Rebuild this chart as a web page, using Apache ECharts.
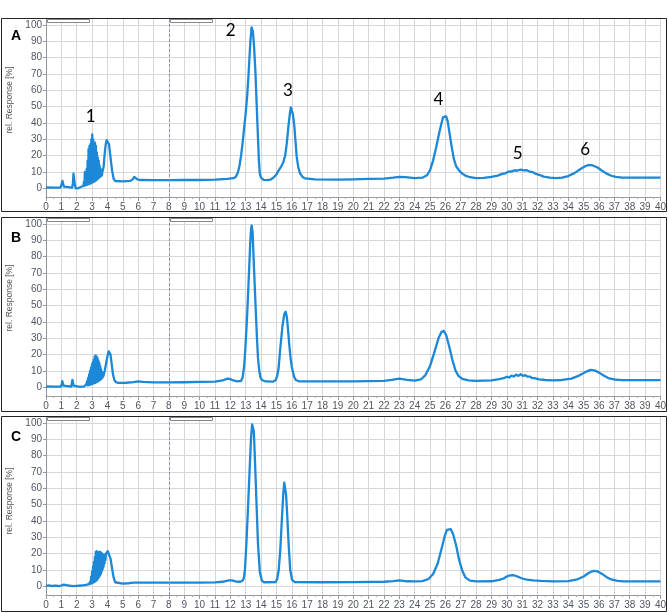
<!DOCTYPE html>
<html><head><meta charset="utf-8">
<script src="https://cdn.jsdelivr.net/npm/echarts@6/dist/echarts.min.js"></script>
<style>html,body{margin:0;padding:0;background:#fff}#c{width:669px;height:613px}</style>
</head><body><div id="c"></div>
<script>
const panelNames = ['A', 'B', 'C'];
const yTitle = 'rel. Response [%]';
const yTicks = [0, 10, 20, 30, 40, 50, 60, 70, 80, 90, 100];
const xMin = 0, xMax = 40, xStep = 1;
const yMin = -5.3, yMax = 103.6;
const integrationMarker = 8;

const traceA = [
[0,0.5],[0.5,0.4],[0.95,0.5],[1.02,1.5],[1.07,4.5],[1.12,3.5],[1.17,1],[1.25,0.4],[1.7,0.4],[1.75,3],[1.79,9],[1.84,8.5],[1.88,2],[1.93,0],[2.0,-0.3],[2.1,0],[2.2,0.5],[2.3,1],[2.38,1.3],
[2.44,1.5],[2.47,4],[2.50,1.6],[2.53,10],[2.56,1.8],[2.59,7],[2.62,2],[2.65,12],[2.68,2.2],[2.71,17],[2.74,2.4],[2.77,24],[2.80,2.6],[2.83,26],[2.86,2.8],[2.89,27],[2.92,3],[2.95,30],[2.98,3.3],[3.01,33],[3.04,3.6],[3.07,30],[3.10,3.9],[3.13,28],[3.16,4.2],[3.19,28],[3.22,4.6],[3.25,26],[3.28,5],[3.31,22],[3.34,5.5],[3.37,19],[3.40,6],[3.43,17],[3.46,6.5],[3.49,14],[3.52,7],[3.55,12],[3.58,7.5],[3.61,11],[3.64,8],[3.67,10],[3.70,9],
[3.75,13],[3.8,19],[3.85,24],[3.9,27.5],[3.95,29.5],[4.0,30],[4.05,29.5],[4.1,27],[4.15,23],[4.2,19],[4.3,11],[4.4,6],[4.5,4.5],[4.6,4],[5.0,4.2],[5.5,4.6],[5.65,5.5],[5.75,7],[5.85,6.5],[5.95,5.5],[6.1,5.1],[7,5],[8,5],[9,5.1],[10,5.1],[11,5.3],[11.8,5.8],[12.2,6.2],[12.35,7],[12.5,10],[12.6,14],[12.7,20],[12.8,28],[12.9,37],[13.0,46],[13.1,57],[13.2,72],[13.3,89],[13.38,98.5],[13.42,99.5],[13.47,96],[13.55,86],[13.63,72],[13.72,50],[13.8,31],[13.86,17],[13.92,9],[14.0,6.5],[14.17,5.2],[14.4,5],[14.6,5.3],[14.8,6.5],[15.0,8.5],[15.14,10.8],[15.3,13.2],[15.45,16],[15.57,20],[15.68,28],[15.78,37.7],[15.88,46],[15.94,49.5],[15.99,49.5],[16.07,45.5],[16.17,37.7],[16.25,28],[16.32,19.4],[16.42,13],[16.54,9.2],[16.7,7],[16.86,6.1],[17.5,5.5],[19,5.3],[20,5.5],[21,5.8],[22,6],[22.6,6.5],[23,7],[23.4,6.8],[24,6.3],[24.5,6.5],[24.8,8],[25.0,11],[25.2,17],[25.4,25],[25.6,34],[25.75,40],[25.85,43.5],[25.95,44.5],[26.05,44],[26.15,41],[26.25,35],[26.4,26],[26.55,18],[26.7,13.5],[26.9,10.8],[27.1,9],[27.3,7.8],[27.6,6.8],[28,6.2],[28.5,6.4],[29,7],[29.4,7.8],[29.7,8.8],[29.9,9.2],[30.1,10.2],[30.3,10.3],[30.5,11],[30.7,10.9],[30.9,11.5],[31.1,11],[31.3,11.1],[31.5,10.2],[31.7,9.9],[31.9,8.8],[32.1,8.3],[32.4,7.2],[32.8,6.5],[33.2,6.2],[33.6,6.5],[34,7.5],[34.4,9.3],[34.8,11.8],[35.1,13.5],[35.35,14.3],[35.6,14],[35.9,12.7],[36.2,10.8],[36.5,9],[36.8,7.7],[37.1,7],[37.5,6.6],[38,6.5],[40,6.5]
];

const traceB = [
[0,0.5],[0.5,0.4],[0.98,0.5],[1.02,2],[1.06,3.8],[1.1,3.5],[1.14,1],[1.2,0.4],[1.64,0.4],[1.68,2.5],[1.72,4.5],[1.76,4.2],[1.8,1],[1.86,0.3],[2.2,0.3],[2.5,0.6],
[2.60,1],[2.63,2],[2.66,1.1],[2.69,4],[2.72,1.2],[2.75,6],[2.78,1.3],[2.81,8],[2.84,1.5],[2.87,10],[2.90,1.7],[2.93,12],[2.96,1.9],[2.99,14],[3.02,2.1],[3.05,15.5],[3.08,2.3],[3.11,17],[3.14,2.5],[3.17,19],[3.20,2.7],[3.23,19.5],[3.26,3],[3.29,19],[3.32,3.3],[3.35,18],[3.38,3.6],[3.41,16.5],[3.44,4],[3.47,15],[3.50,4.4],[3.53,13],[3.56,4.8],[3.59,11],[3.62,5.3],[3.65,9.5],[3.68,6],[3.71,8.5],[3.74,7],[3.77,8],
[3.82,10],[3.9,14],[4.0,19],[4.08,22],[4.13,22.5],[4.2,20],[4.28,14],[4.36,8],[4.45,4.5],[4.55,3.2],[4.7,2.7],[5.2,2.8],[5.7,3.2],[6.0,3.7],[6.3,3.3],[7,3],[8,3],[9,3.1],[10,3.3],[11,3.5],[11.5,4.2],[11.8,5.3],[12.0,5],[12.2,4.2],[12.45,3.6],[12.7,4],[12.8,6],[12.9,13],[12.98,24],[13.1,45],[13.2,67],[13.3,89],[13.35,97],[13.39,99],[13.45,95],[13.52,78],[13.62,55],[13.73,30.9],[13.8,18],[13.88,10.5],[13.96,6],[14.06,4.5],[14.3,3.6],[14.8,3.5],[14.96,4.5],[15.06,7.5],[15.14,11.5],[15.24,22.7],[15.4,38],[15.52,45],[15.6,46.3],[15.68,43],[15.76,35],[15.83,26.8],[15.92,18],[16.0,12.6],[16.15,6.5],[16.26,4.5],[16.5,3.6],[18,3.6],[20,3.7],[22,3.9],[22.5,4.5],[23,5.3],[23.5,4.6],[24,4.1],[24.4,4.8],[24.7,7.5],[25.0,13],[25.3,22],[25.55,30],[25.75,34],[25.9,34.5],[26.05,32],[26.25,25],[26.45,17],[26.65,10.5],[26.85,7],[27.1,5.2],[27.5,4.3],[28,4],[29,4.3],
[29.5,5],[29.8,5.6],[30.0,6.5],[30.15,6],[30.3,7.2],[30.45,6.6],[30.6,7.8],[30.75,7],[30.9,8],[31.05,7],[31.2,7.5],[31.35,6.5],[31.5,6.6],[31.65,5.6],[31.8,5.6],[32.1,4.9],
[32.5,4.5],[33,4.3],[33.6,4.5],[34.2,5.3],[34.7,7.2],[35.1,9.3],[35.45,10.7],[35.7,10.4],[36.0,9],[36.3,7.2],[36.6,5.7],[37,4.8],[37.5,4.4],[40,4.4]
];

const traceC = [
[0,0.3],[0.2,0.6],[0.4,0.2],[0.6,0.5],[0.8,0.2],[0.98,0.5],[1.05,1.2],[1.1,1.6],[1.16,1],[1.25,0.2],[1.5,0.5],[1.8,0.1],[2.0,0.3],[2.3,0.5],[2.6,0.9],[2.8,1.3],
[2.85,1.5],[2.88,3],[2.91,1.6],[2.94,6],[2.97,1.8],[3.00,9],[3.03,2],[3.06,12],[3.09,2.3],[3.12,15],[3.15,2.6],[3.18,18],[3.21,3],[3.24,21],[3.27,3.5],[3.30,21.5],[3.33,4],[3.36,21],[3.39,4.8],[3.42,20],[3.45,5.6],[3.48,21],[3.51,6.5],[3.54,21],[3.57,7.5],[3.60,20.5],[3.63,9],[3.66,20],[3.69,10.5],[3.72,19.5],[3.75,12],[3.78,19],[3.81,14],[3.84,19.5],[3.87,16],[3.90,20],
[3.95,20.5],[4.02,21.5],[4.07,22],[4.12,21],[4.2,17],[4.3,11],[4.4,5.5],[4.5,2.5],[4.6,1.6],[5.0,1.6],[5.4,1.9],[5.7,2.3],[6,2.3],[8,2.3],[10,2.3],[11,2.4],[11.5,2.8],[11.9,3.6],[12.1,3.7],[12.4,2.9],[12.65,2.8],[12.8,3.6],[12.88,5],[12.95,10],[13.05,27],[13.15,48],[13.25,70],[13.35,91],[13.42,99],[13.47,99.5],[13.53,95],[13.6,78],[13.7,52],[13.8,26],[13.92,9],[14.05,3.5],[14.2,2.5],[14.95,2.6],[15.05,4.5],[15.15,10],[15.25,22],[15.35,40],[15.45,57],[15.51,63.5],[15.56,63],[15.63,56],[15.7,44],[15.8,25],[15.9,10],[16.02,4],[16.2,2.6],[18,2.5],[20,2.6],[22,2.8],[22.6,3.2],[23,3.6],[23.5,3.1],[24,3],[24.5,3.2],[24.9,4.5],[25.2,7.5],[25.5,14],[25.75,23],[25.95,30.5],[26.1,34.5],[26.22,35.6],[26.35,35],[26.5,32],[26.7,25],[26.9,16],[27.1,9.5],[27.3,5.5],[27.6,3.5],[28,3],[29,3.1],
[29.5,4],[29.8,4.8],[29.95,5.8],[30.05,5.2],[30.15,6.6],[30.25,5.8],[30.35,6.8],[30.45,5.9],[30.55,6.5],[30.65,5.5],[30.8,5.6],[31.0,4.8],[31.3,4.1],[31.7,3.6],
[32.2,3.3],[33,3],[34,3.2],[34.6,4.3],[35.0,6],[35.35,8.3],[35.65,9.5],[35.9,9.2],[36.2,7.6],[36.5,5.6],[36.8,4.2],[37.2,3.3],[37.6,3],[40,3]
];

const traces = [traceA, traceB, traceC];

// peak numbers shown in panel A (anchored in data coordinates)
const peakNames = ['1', '2', '3', '4', '5', '6'];
const peakLabelX = [2.91, 12.03, 15.75, 25.55, 30.7, 35.1];
const peakLabelY = [43.7, 96.3, 60, 54.3, 21.5, 23.5];

// layout
const gridTops = [19, 218, 417];
const gridH = 178;
const frameTops = [18.5, 217.5, 416.5];
const frameH = [193, 194, 195];
const letterTops = [29, 231, 430];
const titleCenters = [100, 298, 501];

const chart = echarts.init(document.getElementById('c'), null, {renderer: 'canvas'});

const grid = [], xAxis = [], yAxis = [], series = [];
const gridColor = '#d7d7d7';
const labelColor = '#505560';
const lineColor = '#1b88d8';

for (let i = 0; i < 3; i++) {
  grid.push({left: 46, right: 4.5, top: gridTops[i], height: gridH, containLabel: false});
  xAxis.push({
    type: 'value', gridIndex: i, min: xMin, max: xMax, interval: xStep,
    axisLine: {onZero: false, lineStyle: {color: '#9a9a9a', width: 1}},
    axisTick: {show: true, length: 4, lineStyle: {color: '#9a9a9a'}},
    minorTick: {show: true, splitNumber: 2, length: 2, lineStyle: {color: '#aaaaaa'}},
    axisLabel: {fontSize: 10, color: labelColor, margin: 5, fontFamily: 'Liberation Sans'},
    splitLine: {show: true, lineStyle: {color: gridColor, width: 1}}
  });
  yAxis.push({
    type: 'value', gridIndex: i, min: yMin, max: yMax,
    axisLine: {show: true, onZero: false, lineStyle: {color: '#8a93a8'}},
    axisTick: {show: true, length: 3, customValues: yTicks, lineStyle: {color: '#9a9a9a'}},
    axisLabel: {customValues: yTicks, fontSize: 10, color: labelColor, margin: 4, fontFamily: 'Liberation Sans'},
    splitLine: {show: true, lineStyle: {color: gridColor, width: 1}}
  });
  const s = {
    type: 'line', xAxisIndex: i, yAxisIndex: i, data: traces[i],
    showSymbol: false, symbol: 'none', animation: false,
    lineStyle: {color: lineColor, width: 2.3, join: 'round'},
    markLine: {
      symbol: 'none', silent: true, animation: false,
      label: {show: false},
      lineStyle: {type: [3, 2], color: '#8c93b5', width: 1},
      data: [{xAxis: integrationMarker}]
    }
  };
  if (i === 0) {
    s.markPoint = {
      symbol: 'circle', symbolSize: 1, silent: true, animation: false,
      itemStyle: {color: 'rgba(0,0,0,0)'},
      label: {show: true, position: 'inside', color: '#000', fontSize: 17, fontFamily: 'Lato', formatter: p => p.name},
      data: peakNames.map((n, k) => ({name: n, coord: [peakLabelX[k], peakLabelY[k]]}))
    };
  }
  series.push(s);
}

const graphic = [];
for (let i = 0; i < 3; i++) {
  graphic.push({type: 'rect', shape: {x: 1.5, y: frameTops[i], width: 665, height: frameH[i]},
    style: {fill: 'none', stroke: '#222', lineWidth: 1}, silent: true, z: 100});
  graphic.push({type: 'rect', shape: {x: 47.5, y: gridTops[i] + 0.5, width: 42, height: 3},
    style: {fill: '#fff', stroke: '#888', lineWidth: 1}, silent: true, z: 100});
  graphic.push({type: 'rect', shape: {x: 170.5, y: gridTops[i] + 0.5, width: 42, height: 3},
    style: {fill: '#fff', stroke: '#888', lineWidth: 1}, silent: true, z: 100});
  graphic.push({type: 'text', x: 11, y: letterTops[i], silent: true, z: 100,
    style: {text: panelNames[i], font: 'bold 14px "Liberation Sans"', fill: '#000', textVerticalAlign: 'top'}});
  graphic.push({type: 'text', x: 10, y: titleCenters[i], rotation: Math.PI / 2, silent: true, z: 100,
    style: {text: yTitle, font: '8.5px "Liberation Sans"', fill: '#555', textAlign: 'center', textVerticalAlign: 'middle'}});
}

chart.setOption({
  animation: false,
  backgroundColor: '#fff',
  textStyle: {fontFamily: 'Liberation Sans'},
  grid, xAxis, yAxis, series, graphic
});
</script>
</body></html>
